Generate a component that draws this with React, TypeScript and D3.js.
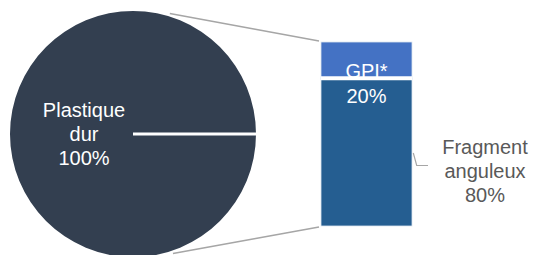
import React from "react";
import * as d3 from "d3";

const pieCategories = ["Plastique dur"];
const pieValues = [100];
const barCategories = ["Fragment anguleux", "GPI*"];
const barValues = [80, 20];

const W = 534;
const H = 255;
const FONT = "'Liberation Sans', Arial, sans-serif";

export default function App() {
  const cx = 133, cy = 134, r = 123;
  const pie = d3.pie<number>().sort(null).startAngle(Math.PI / 2).endAngle(Math.PI / 2 + 2 * Math.PI);
  const arcs = pie(pieValues);
  const arc = d3.arc<d3.PieArcDatum<number>>().innerRadius(0).outerRadius(r);

  const total = d3.sum(barValues);
  const y = d3.scaleLinear().domain([0, total]).range([226, 42]);
  const x0 = 321, x1 = 412;
  const stacks: { cat: string; v0: number; v1: number }[] = [];
  let acc = 0;
  barValues.forEach((v, i) => {
    stacks.push({ cat: barCategories[i], v0: acc, v1: acc + v });
    acc += v;
  });
  const colors = ["#255E91", "#4472C4"];

  const a0 = arcs[0].startAngle;
  const ex = cx + Math.sin(a0) * r;
  const ey = cy - Math.cos(a0) * r;

  const angTop = (-73 * Math.PI) / 180;
  const angBot = (71.5 * Math.PI) / 180;
  const rc = r + 3;
  const boundary = y(stacks[0].v1);

  return (
    <svg width={W} height={H} style={{ position: "absolute", left: 0, top: 0 }} fontFamily={FONT}>
      <g transform={`translate(${cx},${cy})`}>
        {arcs.map((a, i) => (
          <path key={i} d={arc(a) || ""} fill="#333F50" />
        ))}
      </g>
      <line x1={cx} y1={cy} x2={ex} y2={ey} stroke="#fff" strokeWidth={3} />
      <line x1={cx + Math.cos(angTop) * rc} y1={cy + Math.sin(angTop) * rc} x2={x0 - 2} y2={y(total) - 1} stroke="#A6A6A6" strokeWidth={1.5} />
      <line x1={cx + Math.cos(angBot) * rc} y1={cy + Math.sin(angBot) * rc} x2={x0 - 2} y2={y(0) + 1} stroke="#A6A6A6" strokeWidth={1.5} />
      {stacks.map((s, i) => (
        <rect key={i} x={x0} y={y(s.v1)} width={x1 - x0} height={y(s.v0) - y(s.v1)} fill={colors[i]} stroke="#DDE6F0" strokeWidth={0.8} />
      ))}
      <text x={84} fontSize={20} fill="#fff" textAnchor="middle">
        <tspan x={84} y={116.5}>Plastique</tspan>
        <tspan x={84} y={141}>dur</tspan>
        <tspan x={84} y={165}>{pieValues[0]}%</tspan>
      </text>
      <text fontSize={20} fill="#fff" textAnchor="middle">
        <tspan x={(x0 + x1) / 2} y={77.5}>{barCategories[1]}</tspan>
        <tspan x={(x0 + x1) / 2} y={103}>{barValues[1]}%</tspan>
      </text>
      <line x1={x0} x2={x1} y1={boundary - 0.5} y2={boundary - 0.5} stroke="#fff" strokeWidth={4} />
      <polyline points="413.3,153 416.7,165.5 428,165.5" fill="none" stroke="#A6A6A6" strokeWidth={1.2} />
      <text fontSize={20} fill="#595959" textAnchor="middle">
        <tspan x={485} y={154}>Fragment</tspan>
        <tspan x={485} y={177.5}>anguleux</tspan>
        <tspan x={485} y={201.5}>{barValues[0]}%</tspan>
      </text>
    </svg>
  );
}
